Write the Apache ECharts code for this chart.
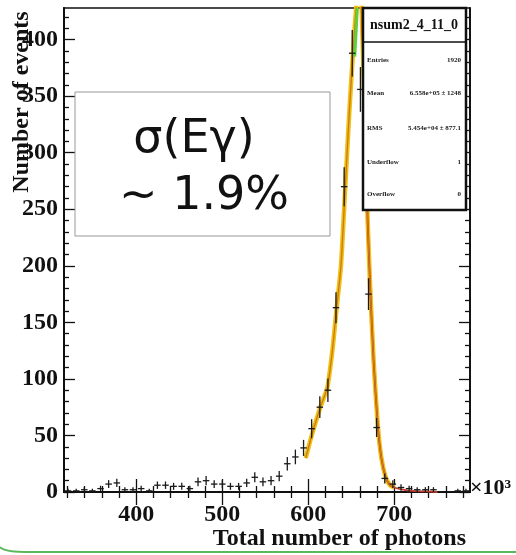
<!DOCTYPE html>
<html>
<head>
<meta charset="utf-8">
<script src="https://cdn.jsdelivr.net/npm/echarts@6/dist/echarts.min.js"></script>
<style>
  html, body { margin: 0; padding: 0; background: #fff; }
  #chart { width: 516px; height: 555px; }
</style>
</head>
<body>
<div id="chart"></div>
<script>
// histogram: 50 bins between 316 and 788 (x10^3 photons)
const binCenters = [
  320.7, 330.2, 339.6, 349.0, 358.5, 367.9, 377.4, 386.8, 396.2, 405.7,
  415.1, 424.6, 434.0, 443.4, 452.9, 462.3, 471.8, 481.2, 490.6, 500.1,
  509.5, 519.0, 528.4, 537.8, 547.3, 556.7, 566.2, 575.6, 585.0, 594.5,
  603.9, 613.4, 622.8, 632.2, 641.7, 651.1, 660.6, 670.0, 679.4, 688.9,
  698.3, 707.8, 717.2, 726.6, 736.1, 745.5, 755.0, 764.4, 773.8, 783.3
];
const counts = [
  1, 1, 2, 1, 3, 7, 8, 2, 2, 3,
  1, 6, 6, 5, 5, 3, 9, 10, 7, 7,
  5, 5, 8, 13, 9, 10, 14, 25, 31, 39,
  56, 75, 90, 163, 270, 388, 356, 175, 57, 12,
  7, 4, 3, 2, 2, 2, 0, 0, 1, 1
];
const errors = [
  1, 1, 1.4, 1, 1.7, 2.6, 2.8, 1.4, 1.4, 1.7,
  1, 2.4, 2.4, 2.2, 2.2, 1.7, 3, 3.2, 2.6, 2.6,
  2.2, 2.2, 2.8, 3.6, 3, 3.2, 3.7, 5, 5.6, 6.2,
  7.5, 8.7, 9.5, 12.8, 16.4, 19.7, 18.9, 13.2, 7.5, 3.5,
  2.6, 2, 1.7, 1.4, 1.4, 1.4, 0, 0, 1, 1
];
const BIN_W = 9.44;

// fitted curves
const fitX = [597, 604, 614, 622, 628, 633, 638, 643, 648, 653, 657, 660, 662, 666, 669, 672, 676, 681, 685, 690, 695, 700];
const fitY = [30, 50, 75, 92, 125, 163, 200, 270, 340, 400, 440, 455, 430, 320, 240, 180, 115, 57, 30, 13, 6, 4];
const tailX = [660, 662, 666, 669, 672, 676, 681, 685, 690, 695, 700, 710, 720, 735, 750];
const tailY = [455, 430, 320, 240, 180, 115, 57, 30, 13, 6, 4, 2, 1, 0.5, 0];
const greenX = [654, 657];
const greenY = [385, 428];

// axis ticks
const xTicks = [400, 500, 600, 700];
const xMinor = [320, 340, 360, 380, 420, 440, 460, 480, 520, 540, 560, 580, 620, 640, 660, 680, 720, 740, 760, 780];
const yTicks = [0, 50, 100, 150, 200, 250, 300, 350, 400];
const yMinor = [10, 20, 30, 40, 60, 70, 80, 90, 110, 120, 130, 140, 160, 170, 180, 190, 210, 220, 230, 240,
  260, 270, 280, 290, 310, 320, 330, 340, 360, 370, 380, 390, 410, 420];

const X_MIN = 316, X_MAX = 788, Y_MIN = 0, Y_MAX = 428;
const serif = '"Liberation Serif", "DejaVu Serif", serif';

const chart = echarts.init(document.getElementById('chart'));

function tickAxis(pos, vals, len, labels) {
  const horiz = pos === 'bottom' || pos === 'top';
  return {
    type: 'value', position: pos, gridIndex: 0,
    min: horiz ? X_MIN : Y_MIN,
    max: horiz ? X_MAX : Y_MAX,
    axisLine: { show: true, lineStyle: { color: '#111', width: labels ? 2 : 1.5 } },
    axisTick: { show: true, inside: true, length: len, customValues: vals, lineStyle: { color: '#111', width: 1.3 } },
    axisLabel: labels ? {
      show: true, customValues: vals, color: '#111', fontFamily: serif, fontWeight: 'bold', fontSize: 24,
      margin: horiz ? 11 : 6
    } : { show: false },
    splitLine: { show: false }
  };
}

const crossData = binCenters.map((x, i) => [x, counts[i], errors[i]]);

const option = {
  animation: false,
  backgroundColor: '#fff',
  grid: { left: 64, right: 46, top: 8, bottom: 63, show: true, borderColor: '#111', borderWidth: 1.5 },
  xAxis: [
    tickAxis('bottom', xTicks, 13, true),
    tickAxis('bottom', xMinor, 6, false),
    tickAxis('top', xTicks, 13, false),
    tickAxis('top', xMinor, 6, false)
  ],
  yAxis: [
    tickAxis('left', yTicks, 11, true),
    tickAxis('left', yMinor, 5, false),
    tickAxis('right', yTicks, 11, false),
    tickAxis('right', yMinor, 5, false)
  ],
  series: [
    {
      type: 'line', name: 'fit', smooth: 0.2, showSymbol: false, clip: true,
      data: fitX.map((x, i) => [x, fitY[i]]),
      lineStyle: { color: '#f0c010', width: 4.5 }, z: 2
    },
    {
      type: 'line', name: 'tail', smooth: 0.2, showSymbol: false, clip: true,
      data: tailX.map((x, i) => [x, tailY[i]]),
      lineStyle: { color: '#c0392b', width: 1.8 }, z: 3
    },
    {
      type: 'line', name: 'fitcore', smooth: 0.2, showSymbol: false, clip: true,
      data: fitX.map((x, i) => [x, fitY[i]]),
      lineStyle: { color: '#cc7a1a', width: 1.3 }, z: 3
    },
    {
      type: 'line', name: 'green', showSymbol: false, clip: true,
      data: greenX.map((x, i) => [x, greenY[i]]),
      lineStyle: { color: '#5fcf3a', width: 3 }, z: 3
    },
    {
      type: 'custom', name: 'data', clip: true, z: 5,
      data: crossData,
      renderItem: function (params, api) {
        const x = api.value(0), y = api.value(1), e = api.value(2);
        const c = api.coord([x, y]);
        const hw = api.size([BIN_W, 0])[0] / 2 - 0.8;
        const t = api.coord([x, y + e]);
        const b = api.coord([x, Math.max(y - e, 0)]);
        return {
          type: 'group',
          children: [
            { type: 'line', shape: { x1: c[0] - hw, y1: c[1], x2: c[0] + hw, y2: c[1] }, style: { stroke: '#1a1a1a', lineWidth: 1.3 } },
            { type: 'line', shape: { x1: c[0], y1: t[1] - 1, x2: c[0], y2: b[1] + 1 }, style: { stroke: '#1a1a1a', lineWidth: 1.3 } }
          ]
        };
      }
    }
  ],
  graphic: [
    // axis titles
    {
      type: 'text', x: 22, y: 102, rotation: Math.PI / 2, z: 10,
      style: { text: 'Number of events', font: 'bold 24px ' + serif, fill: '#111', align: 'center', verticalAlign: 'middle' }
    },
    {
      type: 'text', x: 466, y: 539, z: 10,
      style: { text: 'Total number of photons', font: 'bold 24px ' + serif, fill: '#111', align: 'right', verticalAlign: 'middle' }
    },
    {
      type: 'text', x: 470, y: 488, z: 10,
      style: { text: '×10³', font: 'bold 22px ' + serif, fill: '#111', align: 'left', verticalAlign: 'middle' }
    },
    // annotation box
    {
      type: 'rect', z: 20, shape: { x: 75, y: 92, width: 255, height: 144 },
      style: { fill: '#fff', stroke: '#999', lineWidth: 1 }
    },
    {
      type: 'text', x: 194, y: 140, z: 21,
      style: { text: 'σ(Eγ)', font: '46px "DejaVu Sans", sans-serif', fill: '#111', align: 'center', verticalAlign: 'middle' }
    },
    {
      type: 'text', x: 204, y: 197, z: 21,
      style: { text: '~ 1.9%', font: '46px "DejaVu Sans", sans-serif', fill: '#111', align: 'center', verticalAlign: 'middle' }
    },
    // stats box
    {
      type: 'rect', z: 20, shape: { x: 363, y: 8, width: 103, height: 202 },
      style: { fill: '#fff', stroke: '#111', lineWidth: 2.5 }
    },
    {
      type: 'line', z: 21, shape: { x1: 363, y1: 42, x2: 466, y2: 42 },
      style: { stroke: '#111', lineWidth: 1.5 }
    },
    {
      type: 'text', x: 414, y: 25, z: 21,
      style: { text: 'nsum2_4_11_0', font: 'bold 14px ' + serif, fill: '#111', align: 'center', verticalAlign: 'middle' }
    },
    { type: 'text', x: 367, y: 60, z: 21, style: { text: 'Entries', font: 'bold 7px ' + serif, fill: '#222', verticalAlign: 'middle' } },
    { type: 'text', x: 461, y: 60, z: 21, style: { text: '1920', font: 'bold 7px ' + serif, fill: '#222', align: 'right', verticalAlign: 'middle' } },
    { type: 'text', x: 367, y: 93, z: 21, style: { text: 'Mean', font: 'bold 7px ' + serif, fill: '#222', verticalAlign: 'middle' } },
    { type: 'text', x: 461, y: 93, z: 21, style: { text: '6.558e+05 ± 1248', font: 'bold 7px ' + serif, fill: '#222', align: 'right', verticalAlign: 'middle' } },
    { type: 'text', x: 367, y: 128, z: 21, style: { text: 'RMS', font: 'bold 7px ' + serif, fill: '#222', verticalAlign: 'middle' } },
    { type: 'text', x: 461, y: 128, z: 21, style: { text: '5.454e+04 ± 877.1', font: 'bold 7px ' + serif, fill: '#222', align: 'right', verticalAlign: 'middle' } },
    { type: 'text', x: 367, y: 162, z: 21, style: { text: 'Underflow', font: 'bold 7px ' + serif, fill: '#222', verticalAlign: 'middle' } },
    { type: 'text', x: 461, y: 162, z: 21, style: { text: '1', font: 'bold 7px ' + serif, fill: '#222', align: 'right', verticalAlign: 'middle' } },
    { type: 'text', x: 367, y: 194, z: 21, style: { text: 'Overflow', font: 'bold 7px ' + serif, fill: '#222', verticalAlign: 'middle' } },
    { type: 'text', x: 461, y: 194, z: 21, style: { text: '0', font: 'bold 7px ' + serif, fill: '#222', align: 'right', verticalAlign: 'middle' } },
    // slide border at the bottom
    {
      type: 'bezierCurve', z: 20,
      shape: { x1: 0, y1: 547, x2: 30, y2: 552, cpx1: 4, cpy1: 552 },
      style: { fill: null, stroke: '#5cb85c', lineWidth: 2 }
    },
    {
      type: 'line', z: 20, shape: { x1: 30, y1: 552, x2: 516, y2: 552 },
      style: { stroke: '#5cb85c', lineWidth: 2 }
    }
  ]
};

chart.setOption(option);
window.addEventListener('resize', () => {
  chart && chart.resize()
})
</script>
</body>
</html>
